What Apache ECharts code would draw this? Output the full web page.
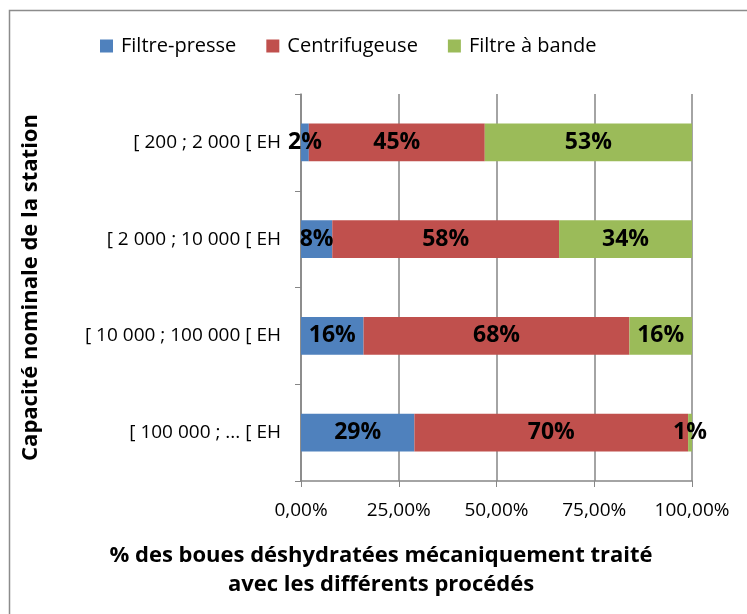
<!DOCTYPE html>
<html>
<head>
<meta charset="utf-8">
<script src="https://cdn.jsdelivr.net/npm/echarts@6/dist/echarts.min.js"></script>
<style>
  html, body { margin: 0; padding: 0; background: #fff; }
  #chart { width: 747px; height: 614px; }
</style>
</head>
<body>
<div id="chart"></div>
<script>
// categories from bottom to top
const categories = ['[ 100 000 ; ... [ EH', '[ 10 000 ; 100 000 [ EH', '[ 2 000 ; 10 000 [ EH', '[ 200 ; 2 000 [ EH'];
const filtrePresse = [29, 16, 8, 2];
const centrifugeuse = [70, 68, 58, 45];
const filtreBande = [1, 16, 34, 53];
const xTicks = [0, 25, 50, 75, 100];

const font = '"Open Sans", Lato, sans-serif';

const chart = echarts.init(document.getElementById('chart'));

function barSeries(name, data, color) {
  return {
    name: name,
    type: 'bar',
    stack: 'total',
    data: data,
    barWidth: '39%',
    itemStyle: { color: color },
    label: {
      show: true,
      position: 'inside',
      formatter: p => p.value + '%',
      color: '#000',
      fontWeight: 'bold',
      fontSize: 23,
      fontFamily: font
    }
  };
}

const option = {
  animation: false,
  backgroundColor: '#fff',
  textStyle: { fontFamily: font },
  graphic: [{
    type: 'rect',
    shape: { x: 9.5, y: 10.5, width: 800, height: 700 },
    style: { fill: 'none', stroke: '#8c8c8c', lineWidth: 1.5 },
    z: -1
  }],
  title: {
    text: '% des boues déshydratées mécaniquement traité\navec les différents procédés',
    left: 376,
    textAlign: 'center',
    top: 536,
    textStyle: { fontFamily: font, fontWeight: 'bold', fontSize: 22, color: '#000', lineHeight: 29 }
  },
  legend: {
    left: 100,
    top: 36,
    padding: 0,
    itemWidth: 13,
    itemHeight: 13,
    itemGap: 30,
    icon: 'rect',
    textStyle: { fontFamily: font, fontSize: 20, color: '#000', padding: [0, 0, 0, 3] },
    data: ['Filtre-presse', 'Centrifugeuse', 'Filtre à bande']
  },
  grid: { left: 301, right: 55, top: 94, bottom: 133 },
  xAxis: {
    type: 'value',
    min: 0,
    max: 100,
    interval: 25,
    axisLine: { show: true, lineStyle: { color: '#868686', width: 1.5 } },
    axisTick: { show: true, length: 6, lineStyle: { color: '#868686' } },
    splitLine: { show: true, lineStyle: { color: '#868686', width: 1.5 } },
    axisLabel: {
      color: '#000',
      fontSize: 19,
      fontFamily: font,
      margin: 20,
      formatter: v => xTicks.includes(v) ? v.toFixed(2).replace('.', ',') + '%' : ''
    }
  },
  yAxis: {
    type: 'category',
    data: categories,
    name: 'Capacité nominale de la station',
    nameLocation: 'middle',
    nameRotate: 90,
    nameGap: 259,
    nameTextStyle: { fontFamily: font, fontWeight: 'bold', fontSize: 22, color: '#000' },
    axisLine: { show: true, lineStyle: { color: '#868686', width: 1.5 } },
    axisTick: { show: true, length: 6, lineStyle: { color: '#868686' } },
    axisLabel: { color: '#000', fontSize: 19, fontFamily: font, margin: 20 }
  },
  series: [
    barSeries('Filtre-presse', filtrePresse, '#4F81BD'),
    barSeries('Centrifugeuse', centrifugeuse, '#C0504D'),
    barSeries('Filtre à bande', filtreBande, '#9BBB59')
  ]
};

chart.setOption(option);
</script>
</body>
</html>
